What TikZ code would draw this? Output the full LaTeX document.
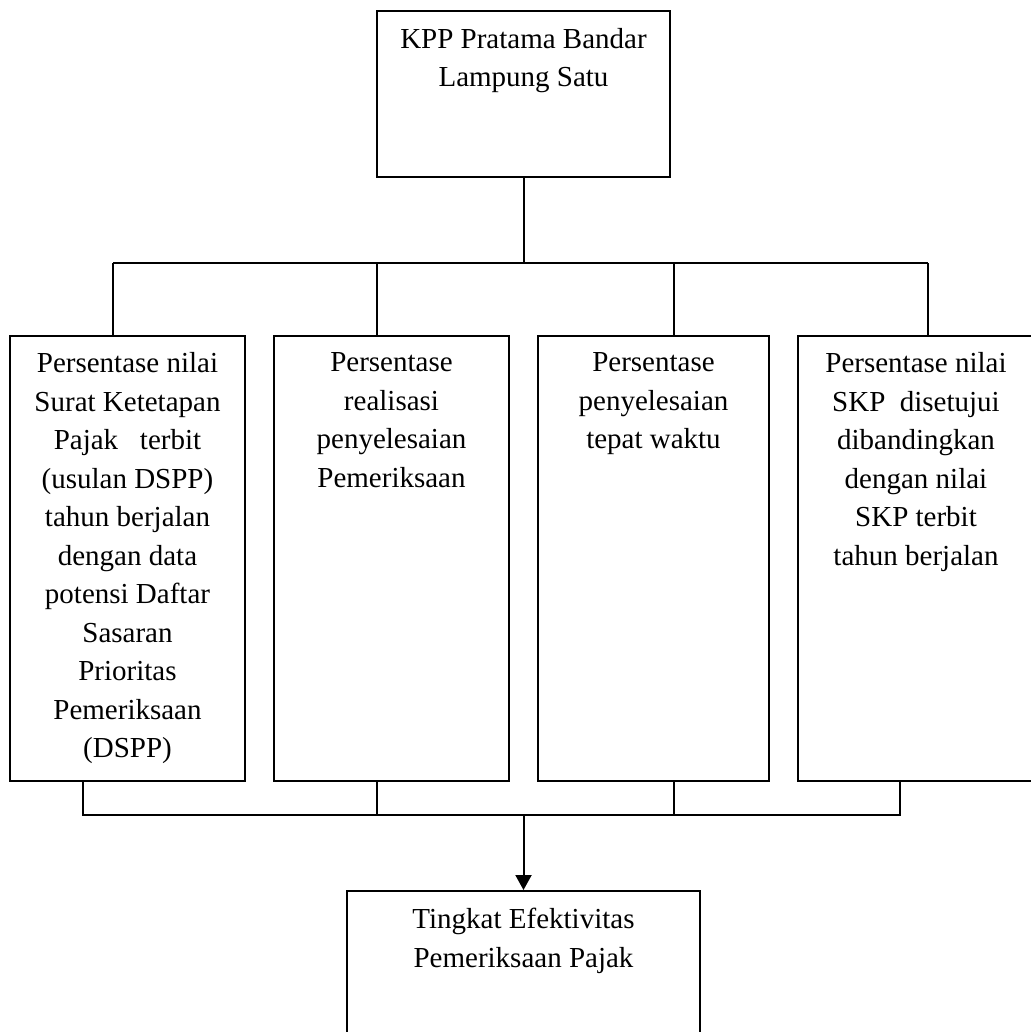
\documentclass[tikz,border=0pt]{standalone}
\usepackage{fontspec}
\setmainfont{Liberation Serif}
\usepackage{tikz}
\usetikzlibrary{positioning, arrows.meta}

\tikzset{
    box/.style={draw, line width=2pt, rectangle, inner sep=0pt},
    txt/.style={align=center, inner sep=0pt, font=\fontsize{29}{38.5}\selectfont},
    wire/.style={line width=2pt}
}

\begin{document}
\begin{tikzpicture}[x=1pt, y=-1pt]

    % Fix the page to the size of the picture
    \useasboundingbox (0,0) rectangle (1030,1032);

    % Draw the office at the top
    \node[box, minimum width=293pt, minimum height=166pt] (kpp) at (523.5,94) {};
    \node[txt, below=18pt of kpp.north] (kpptext) {KPP Pratama Bandar\\Lampung Satu};

    % Draw the four indicators
    \node[box, minimum width=235pt, minimum height=445pt] (dspp) at (127.5,558) {};
    \node[box, minimum width=235pt, minimum height=445pt] (realisasi) at (391.5,558) {};
    \node[box, minimum width=231pt, minimum height=445pt] (tepat) at (653.5,558) {};
    \node[box, minimum width=236pt, minimum height=445pt] (skp) at (916,558) {};

    \node[txt, below=18pt of dspp.north] (dspptext) {Persentase nilai\\Surat Ketetapan\\Pajak\ \ \ terbit\\(usulan DSPP)\\tahun berjalan\\dengan data\\potensi Daftar\\Sasaran\\Prioritas\\Pemeriksaan\\(DSPP)};
    \node[txt, below=18pt of realisasi.north] (realisasitext) {Persentase\\realisasi\\penyelesaian\\Pemeriksaan};
    \node[txt, below=18pt of tepat.north] (tepattext) {Persentase\\penyelesaian\\tepat waktu};
    \node[txt, below=18pt of skp.north] (skptext) {Persentase nilai\\SKP\ \ disetujui\\dibandingkan\\dengan nilai\\SKP terbit\\tahun berjalan};

    % Draw the result at the bottom
    \node[box, minimum width=353pt, minimum height=149pt] (efektif) at (523.5,965.5) {};
    \node[txt, below=18pt of efektif.north] (efektiftext) {Tingkat Efektivitas\\Pemeriksaan Pajak};

    % Upper branches
    \coordinate (busL) at (113,263);
    \coordinate (busA) at (377,263);
    \coordinate (busB) at (674,263);
    \coordinate (busR) at (928,263);
    \draw[wire] (kpp.south) -- (kpp.south |- busL);
    \draw[wire] (busL) -- (busR);
    \draw[wire] (busL) -- (busL |- dspp.north);
    \draw[wire] (busA) -- (busA |- realisasi.north);
    \draw[wire] (busB) -- (busB |- tepat.north);
    \draw[wire] (busR) -- (busR |- skp.north);

    % Lower branches
    \coordinate (lowL) at (83,815);
    \coordinate (lowA) at (377,815);
    \coordinate (lowB) at (674,815);
    \coordinate (lowR) at (900,815);
    \draw[wire] (lowL |- dspp.south) -- (lowL) -- (lowR) -- (lowR |- skp.south);
    \draw[wire] (lowA |- realisasi.south) -- (lowA);
    \draw[wire] (lowB |- tepat.south) -- (lowB);

    % Arrow into the result
    \draw[wire, -{Triangle[width=16pt, length=15pt]}] (efektif.north |- lowL) -- (efektif.north);

\end{tikzpicture}
\end{document}
